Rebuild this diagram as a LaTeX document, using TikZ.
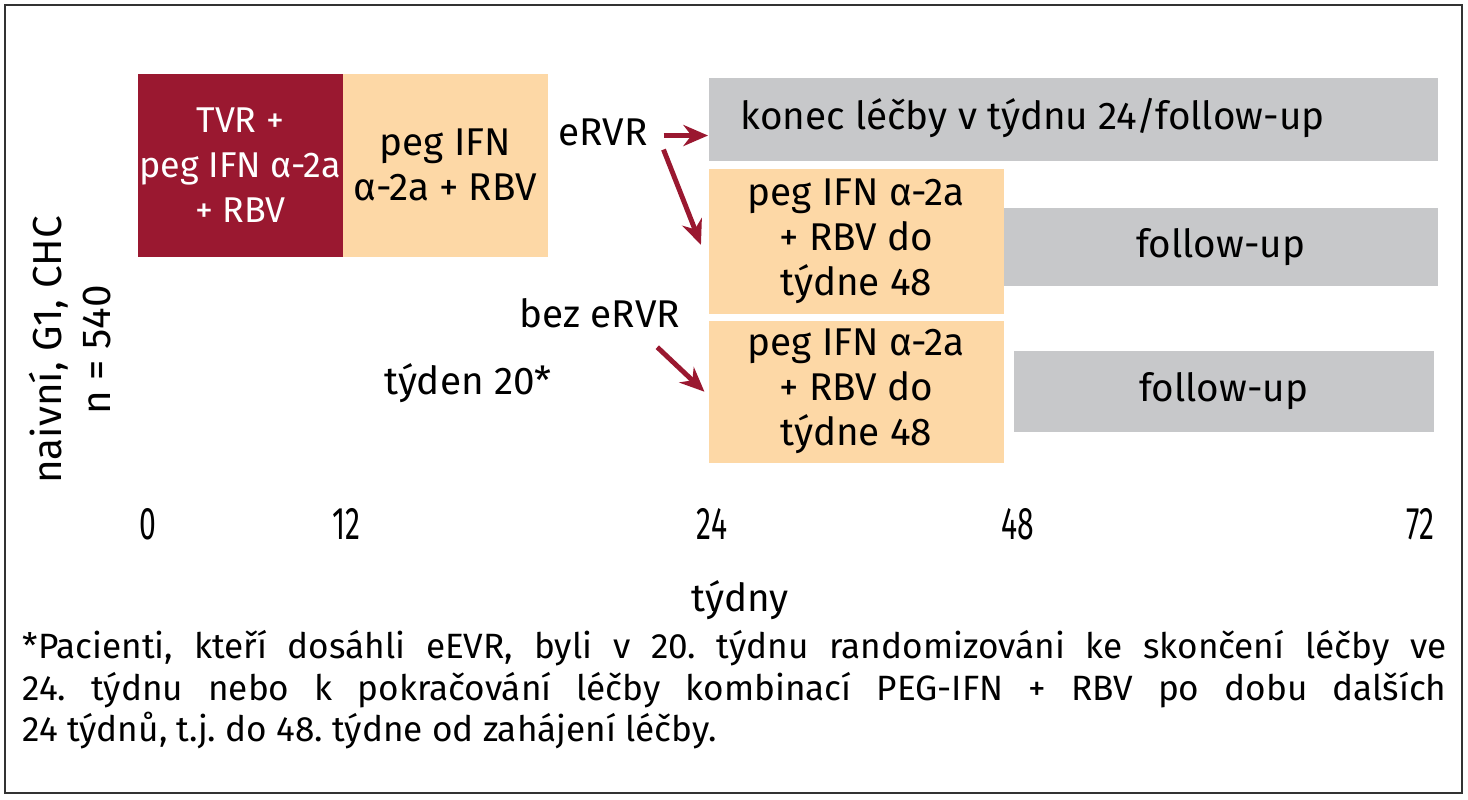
\documentclass[tikz,border=0pt]{standalone}
\usepackage{fontspec}
\setmainfont{Fira Sans}
\newfontfamily\condfont[FakeStretch=0.66]{Fira Sans}
\usepackage{xcolor}
\usetikzlibrary{arrows.meta, positioning}

\definecolor{wine}{HTML}{9A1830}
\definecolor{peach}{HTML}{FDD8A6}
\definecolor{greybar}{HTML}{C7C8CA}

\begin{document}
\frenchspacing
\begin{tikzpicture}[
    x=0.01cm, y=-0.01cm,
    every node/.style={align=center},
    bar/.style={rectangle, anchor=north west, inner sep=0pt, font=\fontsize{11}{12.8}\selectfont},
    tvrbar/.style={bar, fill=wine, text=white, font=\fontsize{10.2}{12.8}\selectfont},
    pegbar/.style={bar, fill=peach},
    fubar/.style={bar, fill=greybar},
    lbl/.style={font=\fontsize{11}{12.8}\selectfont},
    tick/.style={font=\condfont\fontsize{13}{14}\selectfont},
    arrow/.style={draw=wine, line width=1.4pt, -{Stealth[length=7pt, width=6pt]}}
]
\useasboundingbox (0,0) rectangle (1468,800);
\draw[line width=0.8pt, black!80] (5,5) rectangle (1462,793);

% Initial treatment
\node (tvr) [tvrbar, minimum width=2.05cm, minimum height=1.83cm] at (137,73) {TVR +\\peg IFN α-2a\\+ RBV};
\node (peg) [pegbar, minimum width=2.05cm, minimum height=1.83cm] at (342,73) {peg IFN\\α-2a + RBV};

% Week 24 branches
\node (stop) [fubar, minimum width=7.29cm, minimum height=0.83cm] at (708,77) {};
\node (stoptext) [lbl, anchor=west, inner sep=0pt] at (740,118) {konec léčby v týdnu 24/follow-up};
\node (cont) [pegbar, minimum width=2.95cm, minimum height=1.45cm] at (708,168) {peg IFN α-2a\\+ RBV do\\týdne 48};
\node (fuA) [fubar, minimum width=4.34cm, minimum height=0.78cm] at (1003,207) {follow-up};
\node (ext) [pegbar, minimum width=2.95cm, minimum height=1.42cm] at (708,320) {peg IFN α-2a\\+ RBV do\\týdne 48};
\node (fuB) [fubar, minimum width=4.20cm, minimum height=0.81cm] at (1013,350) {follow-up};

% Response labels
\node (ervr) [lbl] at (603,132) {eRVR};
\node (noervr) [lbl] at (600,313) {bez eRVR};
\node (wk20) [lbl] at (468,383) {týden 20*};
\node (cohort) [lbl, rotate=90, font=\fontsize{11.5}{14}\selectfont] at (70,350) {naivní, G1, CHC\\n = 540};

% Arrows
\draw [arrow] ([xshift=1pt,yshift=-1pt]ervr.east) -- ([yshift=-1pt]ervr.east -| stop.west);
\draw [arrow] ([xshift=1pt,yshift=-5pt]ervr.east) -- ([xshift=-2pt,yshift=-1pt]cont.west);
\draw [arrow] ([xshift=-10pt,yshift=-2pt]noervr.south east) -- ([xshift=-1pt]ext.west);

% Time axis
\node (t0) [tick] at (148,524) {0};
\node (t12) [tick] at (346,524) {12};
\node (t24) [tick] at (712,524) {24};
\node (t48) [tick] at (1018,524) {48};
\node (t72) [tick] at (1420,524) {72};
\node (weeks) [lbl] at (740,600) {týdny};

% Footnote
\node (note) [lbl, anchor=north west, inner sep=0pt, text width=14.23cm, align=justify, font=\fontsize{10}{11.8}\selectfont] at (22,630)
{*Pacienti, kteří dosáhli eEVR, byli v 20. týdnu randomizováni ke skončení léčby ve\linebreak
24. týdnu nebo k pokračování léčby kombinací PEG-IFN + RBV po dobu dalších\linebreak
24 týdnů, t.j. do 48. týdne od zahájení léčby.};
\end{tikzpicture}
\end{document}
